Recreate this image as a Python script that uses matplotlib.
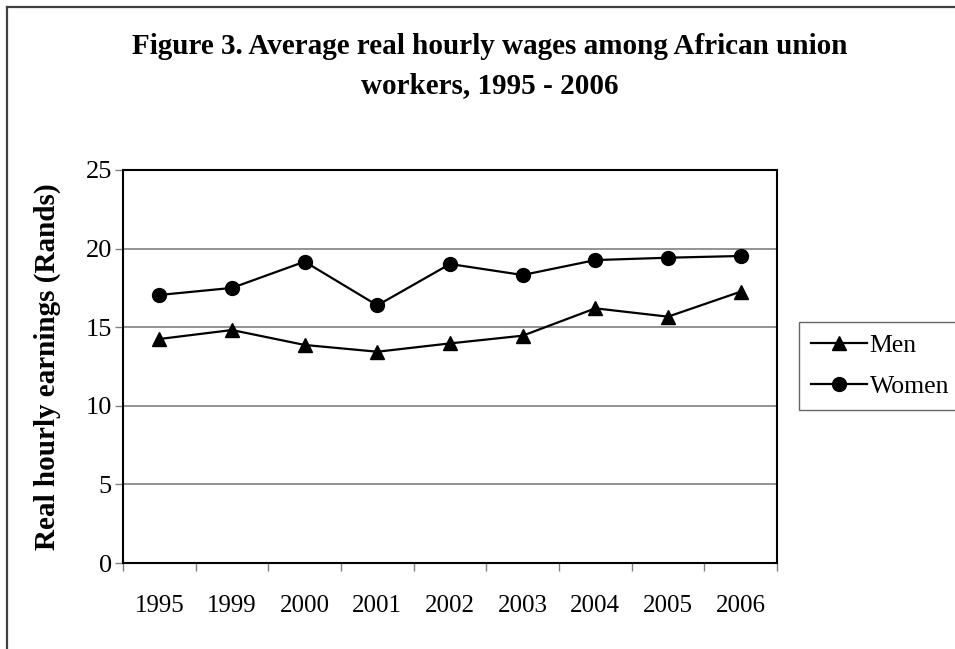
import matplotlib
matplotlib.use("Agg")
import matplotlib.pyplot as plt
from matplotlib.lines import Line2D

plt.rcParams['font.family'] = ['Liberation Serif', 'DejaVu Serif']

years = ['1995', '1999', '2000', '2001', '2002', '2003', '2004', '2005', '2006']
men = [14.25, 14.82, 13.87, 13.44, 13.97, 14.46, 16.20, 15.67, 17.26]
women = [17.05, 17.50, 19.17, 16.39, 19.02, 18.32, 19.27, 19.42, 19.53]
yticks = [0, 5, 10, 15, 20, 25]

W, H = 955, 649
fig = plt.figure(figsize=(W / 100, H / 100), dpi=100)
ax = fig.add_axes([123 / W, 1 - 563 / H, (777 - 123) / W, (563 - 170) / H])

x = list(range(len(years)))
ax.plot(x, men, color='black', lw=1.6, marker='^', ms=10, label='Men')
ax.plot(x, women, color='black', lw=1.6, marker='o', ms=10, label='Women')

ax.set_xlim(-0.5, len(years) - 0.5)
ax.set_ylim(0, 25)
ax.set_yticks(yticks)
ax.yaxis.grid(True, color='#808080', lw=1.2)
ax.set_axisbelow(True)

# category axis: tick marks between categories, labels at centres
ax.set_xticks([i - 0.5 for i in range(len(years) + 1)])
ax.set_xticklabels([])
ax.set_xticks(x, minor=True)
ax.set_xticklabels(years, minor=True)
ax.tick_params(axis='x', which='major', direction='out', length=6, width=1, color='#808080')
ax.tick_params(axis='x', which='minor', length=0, pad=23, labelsize=18)
ax.tick_params(axis='y', direction='out', length=6, width=1, color='#808080', pad=2, labelsize=19)

for s in ax.spines.values():
    s.set_linewidth(1.5)
    s.set_color('black')

ax.set_ylabel('Real hourly earnings (Rands)', fontsize=21, fontweight='bold', labelpad=18)

fig.text(490 / W, 1 - 66 / H,
         'Figure 3. Average real hourly wages among African union\nworkers, 1995 - 2006',
         ha='center', va='center', fontsize=21, fontweight='bold', linespacing=1.55)

leg = fig.legend(loc='upper left', bbox_to_anchor=(799 / W, 1 - 322 / H),
                 fontsize=18.5, frameon=True, fancybox=False, handlelength=2.2,
                 handletextpad=0.1, borderpad=0.45, labelspacing=0.72,
                 borderaxespad=0)
leg.get_frame().set_edgecolor('#404040')
leg.get_frame().set_linewidth(1.0)

# outer chart border (left and top edges visible)
fig.add_artist(Line2D([7 / W, 7 / W], [0, 1 - 7 / H], color='#404040', lw=1.6,
                      transform=fig.transFigure))
fig.add_artist(Line2D([7 / W, 1], [1 - 7 / H, 1 - 7 / H], color='#404040', lw=1.6,
                      transform=fig.transFigure))

fig.savefig('out.png', dpi=100)
